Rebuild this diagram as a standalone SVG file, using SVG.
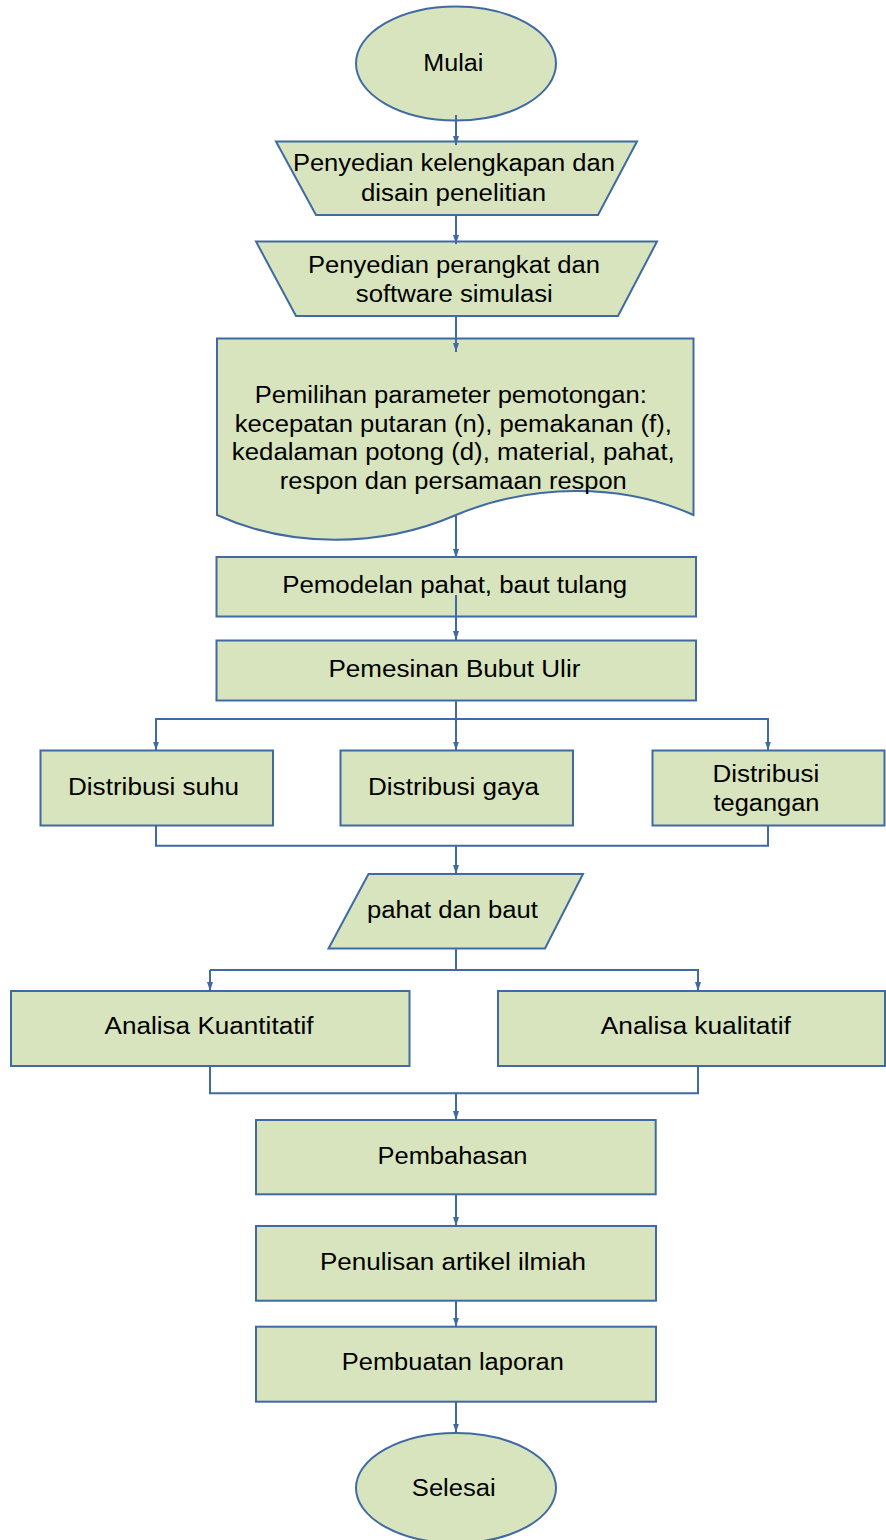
<svg xmlns="http://www.w3.org/2000/svg" width="886" height="1540" viewBox="0 0 886 1540">
<style>
.n{fill:#D7E4BD;stroke:#3F6AA3;stroke-width:2}
.t{font-family:"Liberation Sans",Arial,sans-serif;font-size:23px;fill:#000;text-anchor:middle}
.c{fill:none;stroke:#3F6AA3;stroke-width:2}
</style>
<defs>
<marker id="ah" markerUnits="userSpaceOnUse" markerWidth="9" markerHeight="7" refX="9" refY="3.5" orient="auto">
<path d="M0,0.5 L9,3.5 L0,6.5 Z" fill="#3F6AA3"/>
</marker>
</defs>
<rect width="886" height="1540" fill="#fff"/>
<g id="mulai">
<ellipse class="n" cx="456" cy="63.5" rx="100" ry="57"/>
<text class="t" x="453.3" y="71" textLength="60" lengthAdjust="spacingAndGlyphs">Mulai</text>
</g>
<g id="penyedian-kelengkapan">
<path class="n" d="M276,141.5 L637,141.5 L598,215 L316,215 Z"/>
<text class="t" x="453.9" y="170.7" textLength="322" lengthAdjust="spacingAndGlyphs">Penyedian kelengkapan dan</text>
<text class="t" x="453.5" y="201" textLength="185" lengthAdjust="spacingAndGlyphs">disain penelitian</text>
</g>
<g id="penyedian-perangkat">
<path class="n" d="M256,241.5 L657,241.5 L618,316 L296,316 Z"/>
<text class="t" x="453.9" y="273.3" textLength="292" lengthAdjust="spacingAndGlyphs">Penyedian perangkat dan</text>
<text class="t" x="454.3" y="301.7" textLength="197" lengthAdjust="spacingAndGlyphs">software simulasi</text>
</g>
<g id="pemilihan-parameter">
<path class="n" d="M217,338.5 L693.5,338.5 L693.5,515 C620,482 530,484 456,515 C380,548 290,548 217,515 Z"/>
<text class="t" x="450.8" y="402.7" textLength="392" lengthAdjust="spacingAndGlyphs">Pemilihan parameter pemotongan:</text>
<text class="t" x="453.3" y="431.7" textLength="437" lengthAdjust="spacingAndGlyphs">kecepatan putaran (n), pemakanan (f),</text>
<text class="t" x="453.3" y="460.3" textLength="443" lengthAdjust="spacingAndGlyphs">kedalaman potong (d), material, pahat,</text>
<text class="t" x="453.3" y="489" textLength="347" lengthAdjust="spacingAndGlyphs">respon dan persamaan respon</text>
</g>
<g id="pemodelan">
<rect class="n" x="216.5" y="557" width="479.5" height="59.5"/>
<text class="t" x="454.7" y="593.3" textLength="345" lengthAdjust="spacingAndGlyphs">Pemodelan pahat, baut tulang</text>
</g>
<g id="pemesinan">
<rect class="n" x="216.5" y="640.5" width="479.5" height="60"/>
<text class="t" x="454.4" y="676.7" textLength="252" lengthAdjust="spacingAndGlyphs">Pemesinan Bubut Ulir</text>
</g>
<g id="distribusi-suhu">
<rect class="n" x="40.5" y="750.5" width="232.5" height="75"/>
<text class="t" x="153.5" y="795" textLength="171" lengthAdjust="spacingAndGlyphs">Distribusi suhu</text>
</g>
<g id="distribusi-gaya">
<rect class="n" x="340.5" y="750.5" width="232.5" height="75"/>
<text class="t" x="453.5" y="795" textLength="171" lengthAdjust="spacingAndGlyphs">Distribusi gaya</text>
</g>
<g id="distribusi-tegangan">
<rect class="n" x="652.5" y="750.5" width="232" height="75"/>
<text class="t" x="765.9" y="781.7" textLength="107" lengthAdjust="spacingAndGlyphs">Distribusi</text>
<text class="t" x="766.5" y="810.7" textLength="106" lengthAdjust="spacingAndGlyphs">tegangan</text>
</g>
<g id="pahat-baut">
<path class="n" d="M368.5,874 L583,874 L545,948.5 L328.5,948.5 Z"/>
<text class="t" x="452.5" y="918.3" textLength="171" lengthAdjust="spacingAndGlyphs">pahat dan baut</text>
</g>
<g id="analisa-kuantitatif">
<rect class="n" x="11" y="991" width="398.5" height="75"/>
<text class="t" x="209" y="1034" textLength="209" lengthAdjust="spacingAndGlyphs">Analisa Kuantitatif</text>
</g>
<g id="analisa-kualitatif">
<rect class="n" x="498" y="991" width="387" height="75"/>
<text class="t" x="695.8" y="1034" textLength="190" lengthAdjust="spacingAndGlyphs">Analisa kualitatif</text>
</g>
<g id="pembahasan">
<rect class="n" x="256" y="1120" width="399.7" height="74.3"/>
<text class="t" x="452.5" y="1164" textLength="150" lengthAdjust="spacingAndGlyphs">Pembahasan</text>
</g>
<g id="penulisan">
<rect class="n" x="256" y="1226" width="400" height="74.7"/>
<text class="t" x="453" y="1270" textLength="266" lengthAdjust="spacingAndGlyphs">Penulisan artikel ilmiah</text>
</g>
<g id="pembuatan">
<rect class="n" x="256" y="1326.7" width="400" height="75"/>
<text class="t" x="452.8" y="1370" textLength="222" lengthAdjust="spacingAndGlyphs">Pembuatan laporan</text>
</g>
<g id="selesai">
<ellipse class="n" cx="456" cy="1488" rx="100" ry="55"/>
<text class="t" x="453.8" y="1495.7" textLength="84" lengthAdjust="spacingAndGlyphs">Selesai</text>
</g>
<g id="connectors">
<path class="c" d="M456,115 V145" marker-end="url(#ah)"/>
<path class="c" d="M456,215 V244" marker-end="url(#ah)"/>
<path class="c" d="M456,316 V352" marker-end="url(#ah)"/>
<path class="c" d="M456,516 V558" marker-end="url(#ah)"/>
<path class="c" d="M456,595 V640" marker-end="url(#ah)"/>
<path class="c" d="M456,700.5 V750.5" marker-end="url(#ah)"/>
<path class="c" d="M156,750.5 V719 H768 V750.5" marker-end="url(#ah)"/>
<path class="c" d="M156,719 V750.5" marker-end="url(#ah)"/>
<path class="c" d="M156,825.5 V845.7 H768 V825.5"/>
<path class="c" d="M456,845.7 V874" marker-end="url(#ah)"/>
<path class="c" d="M456,948.5 V970"/>
<path class="c" d="M210,970 H698 V991" marker-end="url(#ah)"/>
<path class="c" d="M210,970 V991" marker-end="url(#ah)"/>
<path class="c" d="M210,1066 V1093.3 H698 V1066"/>
<path class="c" d="M456,1093.3 V1120" marker-end="url(#ah)"/>
<path class="c" d="M456,1194.3 V1226" marker-end="url(#ah)"/>
<path class="c" d="M456,1300.7 V1326.7" marker-end="url(#ah)"/>
<path class="c" d="M456,1401.7 V1432.5" marker-end="url(#ah)"/>
</g>
</svg>
